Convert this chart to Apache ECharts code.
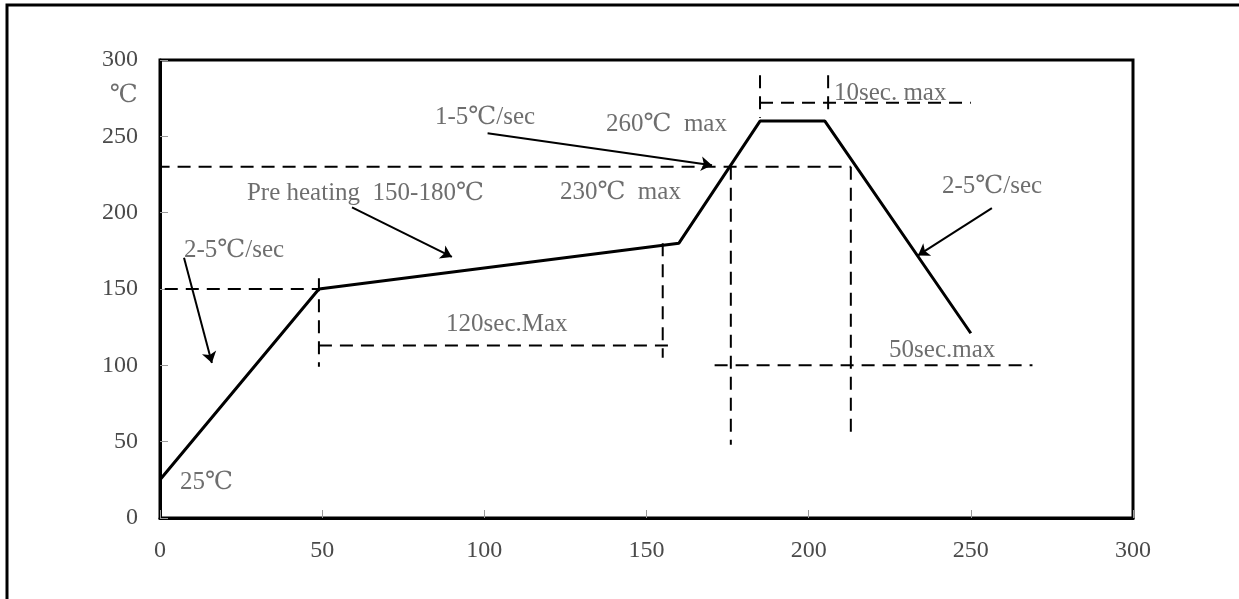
<!DOCTYPE html>
<html>
<head>
<meta charset="utf-8">
<script src="https://cdn.jsdelivr.net/npm/echarts@6/dist/echarts.min.js"></script>
<style>
html,body{margin:0;padding:0;background:#fff;}
#c{width:1239px;height:599px;}
</style>
</head>
<body>
<div id="c"></div>
<script>
// ---- data ----
var xTicks = [0, 50, 100, 150, 200, 250, 300];
var yTicks = [0, 50, 100, 150, 200, 250, 300];
// reflow temperature profile (time sec, temp ℃)
var profileTime = [0, 49, 160, 185, 205, 250];
var profileTemp = [25, 150, 180, 260, 260, 121];
// dashed guide segments [[x1,y1],[x2,y2]]
var guides = [
  [[-14, 230], [213, 230]],
  [[-5, 150], [49, 150]],
  [[49, 157], [49, 99]],
  [[49, 113], [157, 113]],
  [[155, 180], [155, 105]],
  [[176, 230], [176, 48]],
  [[171, 100], [269, 100]],
  [[213, 230], [213, 55]],
  [[185, 290], [185, 262]],
  [[206, 290], [206, 263]],
  [[185, 272], [250, 272]]
];
// arrows [[from],[to]]
var arrows = [
  [[7.4, 170.5], [16.0, 101.5]],
  [[59.2, 203.5], [90, 171]],
  [[101, 252], [170.2, 231]],
  [[256.5, 203], [233.7, 172]]
];
// annotation texts [x, y, text] (left edge, vertical centre)
var notes = [
  [7.4, 175.5, '2-5℃/sec'],
  [26.8, 212.9, 'Pre heating  150-180℃'],
  [84.8, 262.7, '1-5℃/sec'],
  [137.5, 258, '260℃  max'],
  [123.3, 213.5, '230℃  max'],
  [207.8, 278.4, '10sec. max'],
  [241.1, 217.5, '2-5℃/sec'],
  [88.2, 127, '120sec.Max'],
  [224.8, 110, '50sec.max'],
  [6.2, 23, '25℃'],
  [-15.5, 277, '℃']
];

var FONT = '"Liberation Serif", "DejaVu Serif", serif';
var TXT = '#4a4a4a';

var series = [];
series.push({
  type: 'line',
  data: profileTime.map(function (t, i) { return [t, profileTemp[i]]; }),
  showSymbol: false,
  symbol: 'none',
  lineStyle: { color: '#000', width: 3 },
  silent: true,
  z: 5
});
guides.forEach(function (g) {
  series.push({
    type: 'line',
    data: g,
    symbol: 'none',
    clip: false,
    lineStyle: { color: '#000', width: 2, type: [13, 8] },
    silent: true,
    z: 4
  });
});
series.push({
  type: 'lines',
  coordinateSystem: 'cartesian2d',
  data: arrows.map(function (a) { return { coords: a }; }),
  symbol: ['none', 'arrow'],
  symbolSize: 11,
  lineStyle: { color: '#000', width: 2, opacity: 1 },
  silent: true,
  z: 6
});
series.push({
  type: 'scatter',
  symbolSize: 0,
  clip: false,
  silent: true,
  data: notes.map(function (n) { return { value: [n[0], n[1]], name: n[2] }; }),
  label: {
    show: true,
    position: 'right',
    distance: 0,
    formatter: '{b}',
    color: TXT,
    fontFamily: FONT,
    fontSize: 25
  },
  labelLayout: { hideOverlap: false },
  z: 7
});

var chart = echarts.init(document.getElementById('c'));
chart.setOption({
  animation: false,
  backgroundColor: '#fff',
  graphic: [{
    type: 'rect',
    shape: { x: 7, y: 5, width: 1300, height: 640 },
    style: { fill: 'none', stroke: '#000', lineWidth: 3 },
    silent: true
  }],
  grid: {
    left: 160, top: 60, right: 106, bottom: 81,
    show: true, borderColor: '#000', borderWidth: 3, backgroundColor: 'transparent'
  },
  xAxis: {
    type: 'value', min: xTicks[0], max: xTicks[xTicks.length - 1], interval: 50,
    axisLine: { show: true, lineStyle: { color: '#000', width: 3 } },
    axisTick: { show: true, inside: true, length: 8, lineStyle: { color: '#999', width: 1 } },
    axisLabel: { margin: 21, color: TXT, fontFamily: FONT, fontSize: 24,
      formatter: function (v) { return xTicks.indexOf(v) >= 0 ? String(v) : ''; } },
    splitLine: { show: false }
  },
  yAxis: {
    type: 'value', min: yTicks[0], max: yTicks[yTicks.length - 1], interval: 50,
    axisLine: { show: true, lineStyle: { color: '#000', width: 3 } },
    axisTick: { show: true, inside: true, length: 8, lineStyle: { color: '#999', width: 1 } },
    axisLabel: { margin: 22, color: TXT, fontFamily: FONT, fontSize: 24,
      formatter: function (v) { return yTicks.indexOf(v) >= 0 ? String(v) : ''; } },
    splitLine: { show: false }
  },
  series: series
});
</script>
</body>
</html>
